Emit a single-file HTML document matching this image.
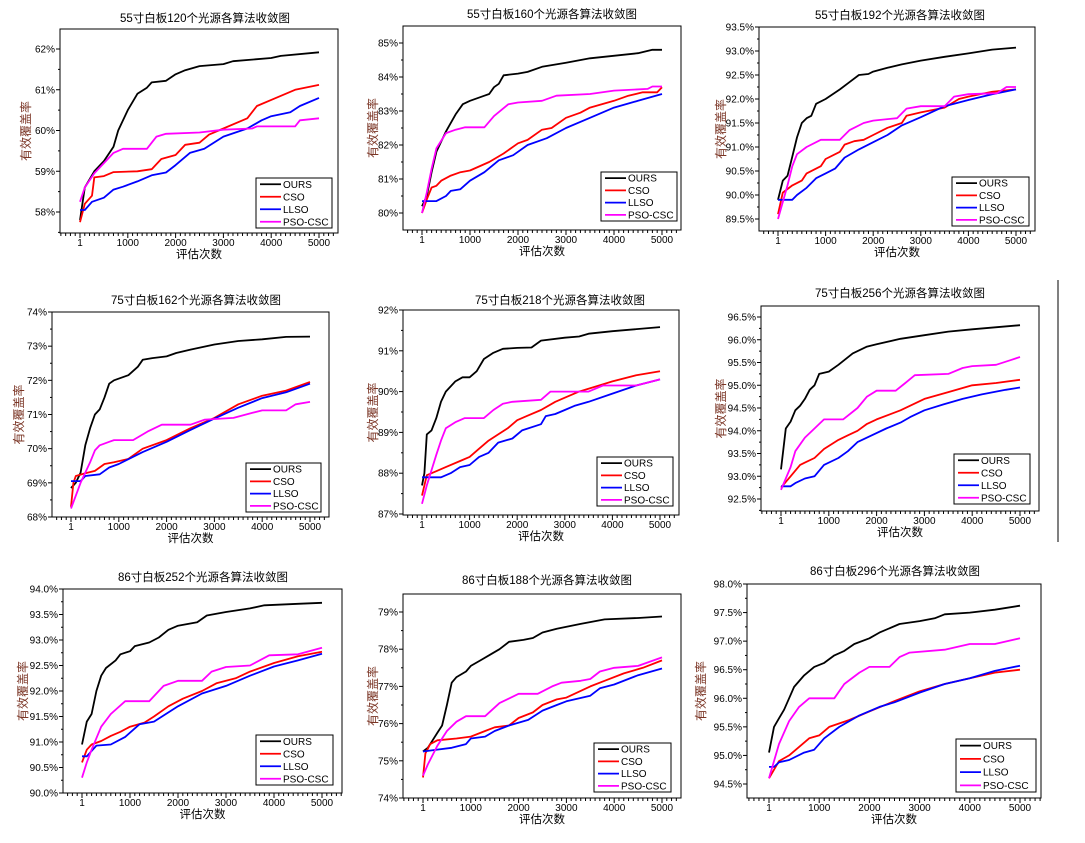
<!DOCTYPE html>
<html><head><meta charset="utf-8"><style>
html,body{margin:0;padding:0;background:#fff;}
svg{display:block;font-family:"Liberation Sans","Noto Sans CJK SC",sans-serif;}
</style></head><body>
<svg id="s" width="1085" height="843" xmlns="http://www.w3.org/2000/svg"></svg>
<script>
const P=[
{t:"55寸白板120个光源各算法收敛图",L:60,T:29,R:338,B:233,x1:80,x5:319,ya:[62,49],yb:[58,212],ticks:[58,59,60,61,62],dec:0,lg:[256,178,332,228],tx:205,ty:22,yl:25,
d:[[0,57.8,50,58.2,100,58.6,300,59.0,500,59.25,700,59.6,800,60.0,1000,60.5,1200,60.9,1400,61.05,1500,61.18,1800,61.22,2000,61.38,2200,61.48,2500,61.58,3000,61.63,3200,61.7,4000,61.78,4200,61.83,5000,61.92],
[0,57.75,100,58.2,250,58.4,300,58.85,500,58.88,700,58.98,1200,59.0,1500,59.05,1700,59.3,2000,59.4,2200,59.65,2500,59.7,2700,59.9,3000,60.05,3500,60.3,3700,60.6,4000,60.75,4500,61.0,5000,61.12],
[0,58.05,100,58.05,250,58.25,500,58.35,700,58.55,900,58.62,1200,58.75,1500,58.9,1800,58.97,2000,59.15,2300,59.45,2600,59.55,3000,59.85,3500,60.05,3800,60.25,4000,60.35,4400,60.45,4600,60.6,5000,60.8],
[0,58.25,100,58.6,300,58.95,500,59.2,700,59.45,900,59.55,1400,59.55,1600,59.85,1800,59.92,2500,59.95,3000,60.02,3600,60.05,3700,60.1,4500,60.1,4600,60.25,5000,60.3]]},
{t:"55寸白板160个光源各算法收敛图",L:403,T:26,R:681,B:230,x1:422,x5:662,ya:[85,43],yb:[80,213],ticks:[80,81,82,83,84,85],dec:0,lg:[601,172,677,221],tx:552,ty:18,yl:372,
d:[[0,80.2,100,80.5,200,81.2,300,81.8,500,82.4,700,82.9,850,83.2,1000,83.3,1300,83.45,1400,83.5,1500,83.7,1600,83.8,1700,84.05,2000,84.1,2200,84.15,2500,84.3,3000,84.42,3500,84.55,4500,84.7,4800,84.8,5000,84.8],
[0,80.0,100,80.4,200,80.75,300,80.8,400,80.95,600,81.1,800,81.2,1000,81.25,1400,81.5,1700,81.75,2000,82.05,2200,82.15,2500,82.45,2700,82.5,3000,82.8,3300,82.95,3500,83.1,4000,83.3,4300,83.45,4600,83.55,4900,83.55,5000,83.7],
[0,80.35,300,80.35,500,80.5,600,80.65,800,80.7,1000,80.95,1300,81.2,1600,81.55,1900,81.7,2200,82.0,2600,82.2,3000,82.5,3500,82.8,4000,83.1,4500,83.3,5000,83.5],
[0,80.0,100,80.6,200,81.3,300,81.9,500,82.35,700,82.45,900,82.52,1300,82.52,1500,82.85,1800,83.2,2000,83.25,2500,83.3,2800,83.45,3500,83.5,4000,83.6,4700,83.65,4800,83.72,5000,83.72]]},
{t:"55寸白板192个光源各算法收敛图",L:759,T:27,R:1035,B:231,x1:778,x5:1016,ya:[93.5,27],yb:[89.5,219],ticks:[89.5,90,90.5,91,91.5,92,92.5,93,93.5],dec:1,lg:[952,177,1029,226],tx:900,ty:19,yl:720,
d:[[0,89.9,100,90.3,200,90.4,300,90.8,400,91.2,500,91.5,600,91.6,700,91.65,800,91.9,1000,92.0,1300,92.2,1500,92.35,1700,92.5,1900,92.52,2000,92.57,2300,92.65,2600,92.72,3000,92.8,3500,92.88,4000,92.95,4500,93.03,5000,93.07],
[0,89.6,100,90.05,300,90.2,500,90.3,600,90.45,900,90.6,1000,90.75,1300,90.9,1400,91.05,1600,91.12,1800,91.15,2000,91.25,2300,91.4,2600,91.5,2700,91.65,3000,91.72,3500,91.82,3800,92.0,4000,92.05,4500,92.15,5000,92.2],
[0,89.9,300,89.9,400,90.0,600,90.15,800,90.35,1000,90.45,1200,90.55,1400,90.78,1700,90.95,2000,91.1,2300,91.25,2600,91.45,3000,91.62,3500,91.85,4000,91.98,4500,92.1,5000,92.2],
[0,89.5,200,90.2,300,90.6,400,90.85,600,91.0,900,91.15,1300,91.15,1500,91.35,1800,91.5,2000,91.55,2500,91.6,2700,91.8,3000,91.85,3500,91.85,3700,92.05,4000,92.1,4600,92.12,4800,92.25,5000,92.25]]},
{t:"75寸白板162个光源各算法收敛图",L:52,T:312,R:329,B:517,x1:71,x5:310,ya:[74,312],yb:[68,517],ticks:[68,69,70,71,72,73,74],dec:0,lg:[246,463,321,512],tx:196,ty:304,yl:18,
d:[[0,68.85,100,69.0,200,69.3,300,70.1,400,70.6,500,71.0,600,71.15,700,71.5,800,71.9,900,72.0,1200,72.15,1400,72.4,1500,72.6,1700,72.65,2000,72.7,2200,72.8,2500,72.9,3000,73.05,3500,73.15,4000,73.2,4500,73.27,5000,73.28],
[0,68.3,50,69.0,100,69.2,300,69.28,500,69.35,700,69.55,900,69.6,1200,69.7,1500,70.0,2000,70.25,2500,70.6,3000,70.9,3500,71.3,4000,71.55,4500,71.7,5000,71.95],
[0,69.05,200,69.05,300,69.2,600,69.25,800,69.45,1000,69.55,1500,69.9,2000,70.2,2500,70.55,3000,70.88,3500,71.2,4000,71.48,4500,71.65,5000,71.9],
[0,68.25,200,69.0,400,69.6,500,69.95,600,70.1,800,70.2,900,70.25,1300,70.25,1600,70.5,1900,70.7,2500,70.7,2800,70.85,3400,70.9,3800,71.05,4000,71.12,4500,71.12,4700,71.3,5000,71.37]]},
{t:"75寸白板218个光源各算法收敛图",L:403,T:310,R:679,B:515,x1:422,x5:660,ya:[92,310],yb:[87,514],ticks:[87,88,89,90,91,92],dec:0,lg:[597,457,673,506],tx:560,ty:304,yl:372,
d:[[0,87.7,50,88.0,100,88.95,200,89.05,300,89.35,400,89.75,500,90.0,700,90.25,850,90.35,1000,90.35,1150,90.5,1300,90.8,1500,90.95,1700,91.05,2000,91.07,2300,91.08,2500,91.25,3000,91.32,3300,91.35,3500,91.42,4000,91.48,5000,91.58],
[0,87.45,100,87.95,300,88.05,500,88.15,800,88.3,1000,88.4,1200,88.6,1400,88.8,1600,88.95,1800,89.1,2000,89.3,2200,89.4,2500,89.55,2800,89.75,3000,89.85,3300,90.0,4000,90.25,4500,90.4,5000,90.5],
[0,87.9,400,87.9,600,88.0,800,88.15,1000,88.2,1200,88.4,1400,88.5,1600,88.75,1900,88.85,2100,89.05,2500,89.2,2600,89.4,2800,89.45,3000,89.55,3200,89.65,3500,89.75,4000,89.95,4500,90.15,5000,90.3],
[0,87.25,100,87.7,300,88.45,400,88.8,500,89.1,700,89.25,900,89.35,1300,89.35,1500,89.55,1700,89.7,1900,89.75,2500,89.8,2700,90.0,3500,90.0,3800,90.15,4500,90.15,5000,90.3]]},
{t:"75寸白板256个光源各算法收敛图",L:761,T:306,R:1039,B:511,x1:781,x5:1020,ya:[96.5,317],yb:[92.5,499],ticks:[92.5,93,93.5,94,94.5,95,95.5,96,96.5],dec:1,lg:[954,454,1030,504],tx:900,ty:297,yl:720,
d:[[0,93.15,50,93.6,100,94.05,200,94.2,300,94.45,400,94.55,500,94.7,600,94.9,700,95.0,800,95.25,1000,95.3,1200,95.45,1500,95.7,1800,95.85,2000,95.9,2500,96.02,3000,96.1,3500,96.18,4000,96.23,5000,96.32],
[0,92.75,200,93.0,400,93.25,500,93.3,700,93.4,900,93.6,1200,93.8,1400,93.9,1600,94.0,1800,94.15,2000,94.25,2500,94.45,3000,94.7,3500,94.85,4000,95.0,4500,95.05,5000,95.12],
[0,92.78,200,92.78,300,92.85,500,92.95,700,93.0,900,93.25,1200,93.4,1400,93.55,1600,93.75,1900,93.9,2200,94.05,2500,94.18,2700,94.3,3000,94.45,3400,94.58,3800,94.7,4200,94.8,4700,94.9,5000,94.95],
[0,92.7,200,93.2,300,93.55,500,93.85,700,94.05,900,94.25,1300,94.25,1600,94.5,1800,94.75,2000,94.88,2400,94.88,2600,95.05,2800,95.22,3500,95.25,3800,95.38,4000,95.42,4500,95.45,4800,95.55,5000,95.62]]},
{t:"86寸白板252个光源各算法收敛图",L:63,T:589,R:342,B:793,x1:82,x5:322,ya:[94,589],yb:[90,793],ticks:[90,90.5,91,91.5,92,92.5,93,93.5,94],dec:1,lg:[256,735,333,785],tx:203,ty:581,yl:22,
d:[[0,90.95,100,91.4,200,91.55,300,92.0,400,92.3,500,92.45,700,92.6,800,92.72,1000,92.78,1100,92.88,1400,92.95,1600,93.05,1800,93.2,2000,93.28,2400,93.35,2600,93.48,3000,93.55,3500,93.62,3800,93.68,4500,93.71,5000,93.73],
[0,90.6,100,90.85,200,90.95,400,91.02,600,91.12,800,91.2,1000,91.3,1300,91.38,1500,91.5,1800,91.7,2100,91.85,2500,92.0,2800,92.15,3200,92.25,3500,92.38,4000,92.55,4500,92.68,5000,92.77],
[0,90.72,100,90.72,300,90.93,600,90.95,900,91.1,1200,91.35,1500,91.4,2000,91.7,2500,91.95,3000,92.1,3500,92.3,4000,92.48,4500,92.6,5000,92.73],
[0,90.3,100,90.6,200,90.85,400,91.3,600,91.55,900,91.8,1400,91.8,1700,92.1,2000,92.2,2500,92.2,2700,92.38,3000,92.47,3500,92.5,3900,92.7,4500,92.72,5000,92.85]]},
{t:"86寸白板188个光源各算法收敛图",L:403,T:594,R:681,B:798,x1:423,x5:662,ya:[79,612],yb:[74,798],ticks:[74,75,76,77,78,79],dec:0,lg:[594,743,671,792],tx:547,ty:584,yl:372,
d:[[0,75.25,100,75.35,200,75.55,300,75.75,400,75.95,500,76.5,600,77.1,700,77.25,900,77.4,1000,77.55,1200,77.7,1400,77.85,1600,78.0,1800,78.2,2100,78.25,2300,78.3,2500,78.45,2800,78.55,3300,78.68,3800,78.8,4500,78.84,5000,78.88],
[0,74.55,50,75.2,150,75.45,300,75.55,700,75.6,1000,75.65,1300,75.8,1500,75.9,1800,75.95,2000,76.15,2300,76.3,2500,76.5,2800,76.65,3000,76.7,3500,77.0,3800,77.15,4200,77.35,4600,77.5,5000,77.7],
[0,75.25,300,75.3,600,75.35,900,75.45,1000,75.6,1300,75.65,1500,75.8,1800,75.95,2200,76.1,2500,76.35,2800,76.5,3000,76.6,3500,76.75,3700,76.95,4000,77.05,4500,77.3,5000,77.48],
[0,74.6,100,74.9,300,75.4,500,75.8,700,76.05,900,76.2,1300,76.2,1600,76.55,2000,76.8,2400,76.8,2700,77.0,2900,77.1,3300,77.15,3500,77.2,3700,77.4,4000,77.5,4500,77.55,5000,77.78]]},
{t:"86寸白板296个光源各算法收敛图",L:747,T:584,R:1041,B:798,x1:769,x5:1020,ya:[98,584],yb:[94.5,784],ticks:[94.5,95,95.5,96,96.5,97,97.5,98],dec:1,lg:[956,739,1036,792],tx:895,ty:575,yl:700,
d:[[0,95.05,100,95.5,200,95.65,300,95.8,400,96.0,500,96.2,700,96.4,900,96.55,1100,96.62,1300,96.75,1500,96.83,1700,96.95,2000,97.05,2200,97.15,2600,97.3,3000,97.35,3300,97.4,3500,97.47,4000,97.5,4500,97.55,5000,97.62],
[0,94.6,200,94.9,400,95.0,600,95.15,800,95.3,1000,95.35,1200,95.5,1600,95.62,2000,95.77,2500,95.95,3000,96.12,3500,96.25,4000,96.35,4500,96.45,5000,96.5],
[0,94.8,100,94.8,200,94.88,400,94.92,700,95.05,900,95.1,1100,95.3,1400,95.5,1800,95.7,2200,95.85,2500,95.93,3000,96.1,3500,96.25,4000,96.35,4500,96.48,5000,96.57],
[0,94.6,200,95.2,400,95.6,600,95.85,800,96.0,1300,96.0,1500,96.25,1800,96.45,2000,96.55,2400,96.55,2600,96.72,2800,96.8,3500,96.85,4000,96.95,4500,96.95,5000,97.05]]}
];
const C=["#000","#f00","#00f","#f0f"],N=["OURS","CSO","LLSO","PSO-CSC"];
let h="";
for(const p of P){
 const X=e=>p.x1+(p.x5-p.x1)*e/5000;
 const Y=v=>p.ya[1]+(p.yb[1]-p.ya[1])*(p.ya[0]-v)/(p.ya[0]-p.yb[0]);
 h+=`<text x="${p.tx}" y="${p.ty}" font-size="11.5" text-anchor="middle">${p.t}</text>`;
 h+=`<rect x="${p.L}" y="${p.T}" width="${p.R-p.L}" height="${p.B-p.T}" fill="none" stroke="#000" stroke-width="1"/>`;
 const st=p.ticks[1]-p.ticks[0];
 for(const v of p.ticks){const y=Y(v);h+=`<line x1="${p.L-4}" y1="${y}" x2="${p.L}" y2="${y}" stroke="#000"/>`;
  h+=`<text x="${p.L-5}" y="${y+3.5}" font-size="10" text-anchor="end">${v.toFixed(p.dec)}%</text>`;}
 for(let v=p.ticks[0]-st/2;v<p.ya[0]+st;v+=st){const y=Y(v);if(y>p.T&&y<p.B)h+=`<line x1="${p.L-2}" y1="${y}" x2="${p.L}" y2="${y}" stroke="#000"/>`;}
 for(let e=-400;e<=5500;e+=100){const x=X(e);if(x<=p.L||x>=p.R)continue;const mj=e%1000==0;h+=`<line x1="${x}" y1="${p.B}" x2="${x}" y2="${p.B+(mj?5:3)}" stroke="#000"/>`;}
 for(const e of [0,1000,2000,3000,4000,5000])h+=`<text x="${X(e)}" y="${p.B+13}" font-size="10" text-anchor="middle">${e||1}</text>`;
 h+=`<text x="${(p.L+p.R)/2}" y="${p.B+25}" font-size="11.5" text-anchor="middle">评估次数</text>`;
 const my=(p.T+p.B)/2;
 h+=`<text transform="translate(${p.yl+5},${my}) rotate(-90)" font-size="12" fill="#7a3424" text-anchor="middle">有效覆盖率</text>`;
 p.d.forEach((a,i)=>{let pts=[];for(let k=0;k<a.length;k+=2)pts.push(X(a[k]).toFixed(1)+","+Y(a[k+1]).toFixed(1));
  h+=`<polyline points="${pts.join(" ")}" fill="none" stroke="${C[i]}" stroke-width="1.8" stroke-linejoin="round"/>`;});
 const [a,b,c,d]=p.lg;h+=`<rect x="${a}" y="${b}" width="${c-a}" height="${d-b}" fill="#fff" stroke="#000"/>`;
 const dy=(d-b)/4;
 N.forEach((n,i)=>{const y=b+dy*(i+0.5);h+=`<line x1="${a+4}" y1="${y}" x2="${a+25}" y2="${y}" stroke="${C[i]}" stroke-width="1.8"/>`;
  h+=`<text x="${a+27}" y="${y+3.5}" font-size="10">${n}</text>`;});
}
h+=`<line x1="1058" y1="280" x2="1058" y2="542" stroke="#000"/>`;
document.getElementById("s").innerHTML=h;
</script>
</body></html>
